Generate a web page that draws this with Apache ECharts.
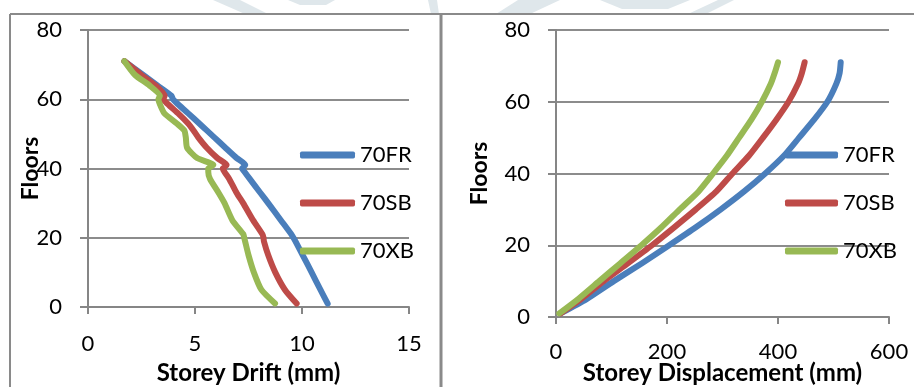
<!DOCTYPE html>
<html>
<head>
<meta charset="utf-8">
<title>Storey drift / displacement</title>
<script src="https://cdn.jsdelivr.net/npm/echarts@6/dist/echarts.min.js"></script>
<style>
    html, body { margin: 0; padding: 0; background: #fff; }
    #main { width: 914px; height: 387px; }
</style>
</head>
<body>
<div id="main"></div>
<script>
var names = ['70FR', '70SB', '70XB'];
var colors = ['#4a7ebb', '#be4b48', '#98b954'];

// left chart - storey drift (mm) per floor
var driftFloors = [1, 5, 10, 15, 19, 20, 21, 25, 30, 33, 37, 39, 40, 41, 43, 46, 49, 51, 53, 56, 59, 60, 61, 64, 67, 71];
var drift70FR = [11.2, 10.86, 10.45, 10.03, 9.69, 9.6, 9.5, 9.02, 8.42, 8.05, 7.56, 7.32, 7.2, 7.35, 6.95, 6.42, 5.9, 5.55, 5.2, 4.67, 4.13, 3.97, 3.9, 3.24, 2.58, 1.7];
var drift70SB = [9.75, 9.2, 8.75, 8.42, 8.22, 8.2, 8.15, 7.72, 7.25, 6.94, 6.6, 6.38, 6.3, 6.48, 6.05, 5.55, 5.15, 4.93, 4.68, 4.2, 3.66, 3.52, 3.58, 3.15, 2.5, 1.7];
var drift70XB = [8.74, 8.1, 7.75, 7.5, 7.34, 7.3, 7.26, 6.75, 6.38, 6.1, 5.7, 5.62, 5.62, 5.86, 5.1, 4.63, 4.57, 4.5, 4.15, 3.56, 3.33, 3.29, 3.36, 2.87, 2.2, 1.7];

// right chart - storey displacement (mm) per floor
var dispFloors = [1, 5, 10, 15, 20, 25, 30, 35, 40, 45, 50, 55, 60, 65, 68, 71];
var disp70FR = [8, 55, 104, 155, 204, 252, 297, 339, 377, 411, 438, 465, 489, 505, 511, 513];
var disp70SB = [8, 45, 86, 130, 173, 213, 252, 289, 318, 348, 373, 397, 419, 436, 443, 448];
var disp70XB = [6, 40, 78, 116, 154, 190, 223, 257, 283, 308, 330, 352, 371, 387, 394, 400];

var floorTicks = [0, 20, 40, 60, 80];

var font = 'Lato, "Open Sans", sans-serif';
var axisGray = '#868686';

function pairs(xs, ys) {
    var out = [];
    for (var i = 0; i < xs.length; i++) out.push([xs[i], ys[i]]);
    return out;
}

function mkX(idx, max, step, name, gap, margin) {
    return {
        type: 'value', gridIndex: idx, min: 0, max: max, interval: step,
        name: name, nameLocation: 'middle', nameGap: gap, nameMoveOverlap: false,
        nameTextStyle: {fontFamily: font, fontSize: 24, fontWeight: 'bold', color: '#000'},
        axisLine: {show: true, lineStyle: {color: axisGray, width: 2}},
        axisTick: {show: true, length: 7, lineStyle: {color: axisGray, width: 2}},
        axisLabel: {fontFamily: font, fontSize: 22, color: '#000', margin: margin},
        splitLine: {show: false}
    };
}

function mkY(idx, gap) {
    return {
        type: 'value', gridIndex: idx, min: floorTicks[0], max: floorTicks[floorTicks.length - 1], interval: 20,
        name: 'Floors', nameLocation: 'middle', nameGap: gap, nameRotate: 90, nameMoveOverlap: false,
        nameTextStyle: {fontFamily: font, fontSize: 23, fontWeight: 'bold', color: '#000'},
        axisLine: {show: true, lineStyle: {color: axisGray, width: 2}},
        axisTick: {show: true, length: 8, lineStyle: {color: axisGray, width: 2}},
        axisLabel: {fontFamily: font, fontSize: 22, color: '#000', margin: 26},
        splitLine: {show: true, lineStyle: {color: '#8c8c8c', width: 2}}
    };
}

function mkSeries(name, color, data, idx) {
    return {
        name: name, type: 'line', xAxisIndex: idx, yAxisIndex: idx,
        data: data, symbol: 'none', smooth: 0.2,
        lineStyle: {width: 6, color: color, cap: 'round', join: 'round'},
        itemStyle: {color: color}
    };
}

function mkLegend(left, w) {
    return {
        data: names, orient: 'vertical', left: left, top: 143, padding: 0,
        itemWidth: w, itemHeight: 7, itemGap: 24, icon: 'roundRect',
        textStyle: {fontFamily: font, fontSize: 22, lineHeight: 24, color: '#000'}
    };
}

var chart = echarts.init(document.getElementById('main'));
var option = {
    animation: false,
    backgroundColor: '#fff',
    color: colors,
    grid: [
        {left: 88, top: 30, width: 321, height: 277, outerBoundsMode: 'none'},
        {left: 556, top: 30, width: 333, height: 287, outerBoundsMode: 'none'}
    ],
    xAxis: [
        mkX(0, 15, 5, 'Storey Drift (mm)', 54, 26),
        mkX(1, 600, 200, 'Storey Displacement (mm)', 44, 24)
    ],
    yAxis: [mkY(0, 46), mkY(1, 65)],
    legend: [mkLegend(300, 55), mkLegend(785, 53)],
    graphic: [
        // faint watermark bits above the frame
        {type: 'polygon', silent: true, z: -1, shape: {points: [[213, 0], [240, 0], [268, 14], [245, 14]]}, style: {fill: '#dfe7eb'}},
        {type: 'polygon', silent: true, z: -1, shape: {points: [[288, 0], [335, 0], [326, 5], [300, 5]]}, style: {fill: '#dfe7eb'}},
        {type: 'polygon', silent: true, z: -1, shape: {points: [[428, 0], [437, 0], [439, 14], [431, 14]]}, style: {fill: '#dfe7eb'}},
        {type: 'polygon', silent: true, z: -1, shape: {points: [[496, 14], [518, 0], [560, 0], [530, 14]]}, style: {fill: '#dfe7eb'}},
        {type: 'polygon', silent: true, z: -1, shape: {points: [[600, 0], [690, 0], [668, 9], [622, 9]]}, style: {fill: '#dfe7eb'}},
        {type: 'polygon', silent: true, z: -1, shape: {points: [[688, 14], [718, 0], [734, 0], [706, 14]]}, style: {fill: '#dfe7eb'}},
        // chart frames
        {type: 'line', silent: true, shape: {x1: 10, y1: 14, x2: 914, y2: 14}, style: {stroke: '#8a8a8a', lineWidth: 2}},
        {type: 'line', silent: true, shape: {x1: 10, y1: 14, x2: 10, y2: 387}, style: {stroke: '#8a8a8a', lineWidth: 2}},
        {type: 'line', silent: true, shape: {x1: 441, y1: 14, x2: 441, y2: 387}, style: {stroke: '#8a8a8a', lineWidth: 3}}
    ],
    series: [
        mkSeries(names[0], colors[0], pairs(drift70FR, driftFloors), 0),
        mkSeries(names[1], colors[1], pairs(drift70SB, driftFloors), 0),
        mkSeries(names[2], colors[2], pairs(drift70XB, driftFloors), 0),
        mkSeries(names[0], colors[0], pairs(disp70FR, dispFloors), 1),
        mkSeries(names[1], colors[1], pairs(disp70SB, dispFloors), 1),
        mkSeries(names[2], colors[2], pairs(disp70XB, dispFloors), 1)
    ]
};
chart.setOption(option);
</script>
</body>
</html>
